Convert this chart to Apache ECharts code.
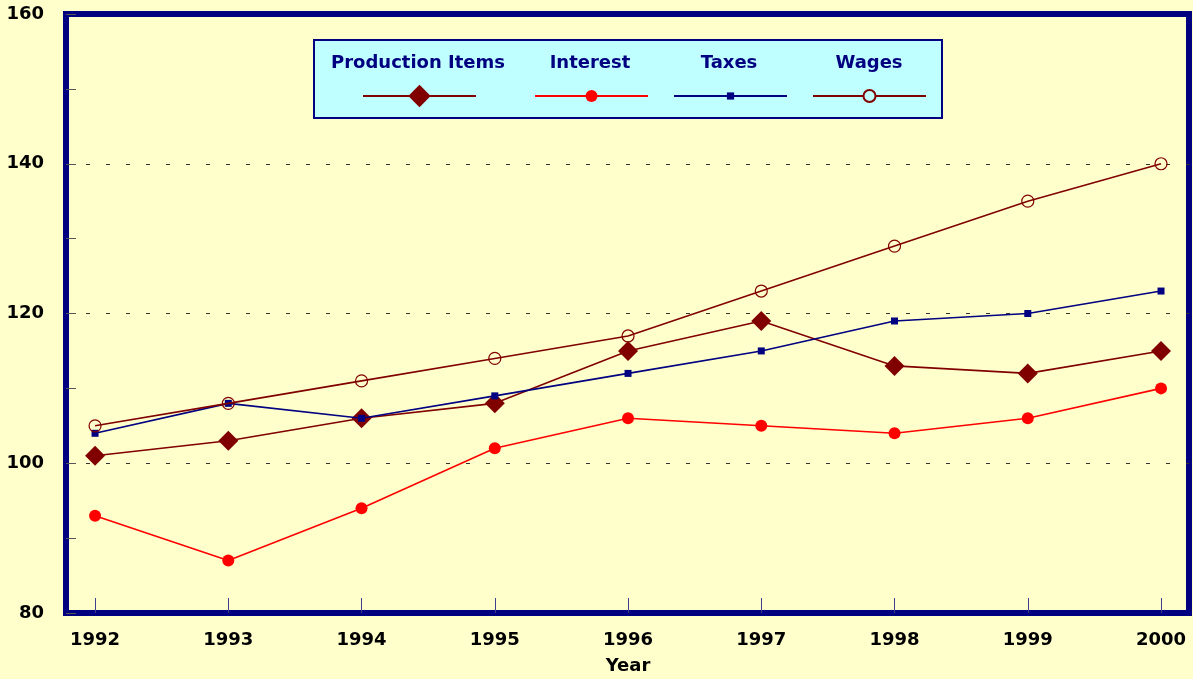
<!DOCTYPE html>
<html>
<head>
<meta charset="utf-8">
<script src="https://cdn.jsdelivr.net/npm/echarts@6/dist/echarts.min.js"></script>
<style>
  html, body { margin: 0; padding: 0; background: #FFFFCC; }
  #chart { width: 1193px; height: 679px; }
</style>
</head>
<body>
<div id="chart"></div>
<script>
var years = [1992, 1993, 1994, 1995, 1996, 1997, 1998, 1999, 2000];
var productionItems = [101, 103, 106, 108, 115, 119, 113, 112, 115];
var interest = [93, 87, 94, 102, 106, 105, 104, 106, 110];
var taxes = [104, 108, 106, 109, 112, 115, 119, 120, 123];
var wages = [105, 108, 111, 114, 117, 123, 129, 135, 140];
var yLabels = [80, 100, 120, 140, 160];

function pairs(vals) {
    return years.map(function(y, i) { return [y, vals[i]]; });
}

var navy = '#000080';
var darkRed = '#800000';
var fontFamily = 'DejaVu Sans, Verdana, sans-serif';

// one legend per series so the spacing can follow the picture
function legendAt(name, left, iconH, extra) {
    var l = {
        data: [name],
        left: left,
        top: 96 - iconH / 2,
        itemWidth: 113,
        itemHeight: iconH,
        padding: 0,
        formatter: function() { return ''; },
        selectedMode: false
    };
    if (extra) { Object.assign(l, extra); }
    return l;
}

function legendTitle(text, cx) {
    return {
        type: 'text', x: cx, y: 63, z: 10,
        style: {
            text: text, fill: navy, fontSize: 18, fontWeight: 'bold', fontFamily: fontFamily,
            textAlign: 'center', textVerticalAlign: 'middle'
        }
    };
}

var chart = echarts.init(document.getElementById('chart'));
chart.setOption({
    backgroundColor: '#FFFFCC',
    animation: false,
    grid: {
        left: 66, right: 4, top: 14, bottom: 66,
        show: true,
        backgroundColor: '#FFFFCC',
        borderColor: navy,
        borderWidth: 6
    },
    graphic: [
        {
            type: 'rect', z: 0,
            shape: { x: 314, y: 40, width: 628, height: 78 },
            style: { fill: '#C0FFFF', stroke: navy, lineWidth: 2 }
        },
        {
            type: 'text', x: 628, y: 666,
            style: {
                text: 'Year', fill: '#000000', fontSize: 18, fontWeight: 'bold', fontFamily: fontFamily,
                textAlign: 'center', textVerticalAlign: 'middle'
            }
        },
        legendTitle('Production Items', 418),
        legendTitle('Interest', 590),
        legendTitle('Taxes', 729),
        legendTitle('Wages', 869)
    ],
    legend: [
        legendAt('Production Items', 362, 28),
        legendAt('Interest', 534, 15),
        legendAt('Taxes', 673, 9),
        legendAt('Wages', 812, 15, { itemStyle: { color: '#C0FFFF' } })
    ],
    xAxis: {
        type: 'value',
        min: 1991.782,
        max: 2000.21,
        axisLine: { show: false },
        splitLine: { show: false },
        axisTick: {
            show: true, inside: true, length: 15,
            customValues: years,
            lineStyle: { color: '#404090', width: 1 }
        },
        axisLabel: {
            customValues: years,
            formatter: function(v) { return String(v); },
            margin: 18,
            fontSize: 18, color: '#000000',
            fontFamily: fontFamily, fontWeight: 'bold'
        }
    },
    yAxis: {
        type: 'value',
        min: 80, max: 160, interval: 20,
        axisLine: { show: false },
        axisTick: {
            show: true, inside: true, length: 10,
            lineStyle: { color: '#555555', width: 1 }
        },
        minorTick: {
            show: true, splitNumber: 2, length: 10,
            lineStyle: { color: '#555555', width: 1 }
        },
        splitLine: {
            show: true,
            showMinLine: false,
            showMaxLine: false,
            lineStyle: { color: '#333333', width: 1, type: [4, 16] }
        },
        axisLabel: {
            customValues: yLabels,
            margin: 22,
            fontSize: 18, color: '#000000',
            fontFamily: fontFamily, fontWeight: 'bold'
        }
    },
    series: [
        {
            name: 'Production Items', type: 'line', data: pairs(productionItems),
            symbol: 'diamond', symbolSize: 20, z: 3,
            lineStyle: { color: darkRed, width: 1.6 },
            itemStyle: { color: darkRed }
        },
        {
            name: 'Interest', type: 'line', data: pairs(interest),
            symbol: 'circle', symbolSize: 12, z: 3,
            lineStyle: { color: '#FF0000', width: 1.6 },
            itemStyle: { color: '#FF0000' }
        },
        {
            name: 'Taxes', type: 'line', data: pairs(taxes),
            symbol: 'rect', symbolSize: 7, z: 4,
            lineStyle: { color: navy, width: 1.6 },
            itemStyle: { color: navy }
        },
        {
            name: 'Wages', type: 'line', data: pairs(wages),
            symbol: 'circle', symbolSize: 12, z: 5,
            lineStyle: { color: darkRed, width: 1.6 },
            itemStyle: { color: 'rgba(255,255,204,0)', borderColor: darkRed, borderWidth: 1.2 }
        }
    ]
});
</script>
</body>
</html>
